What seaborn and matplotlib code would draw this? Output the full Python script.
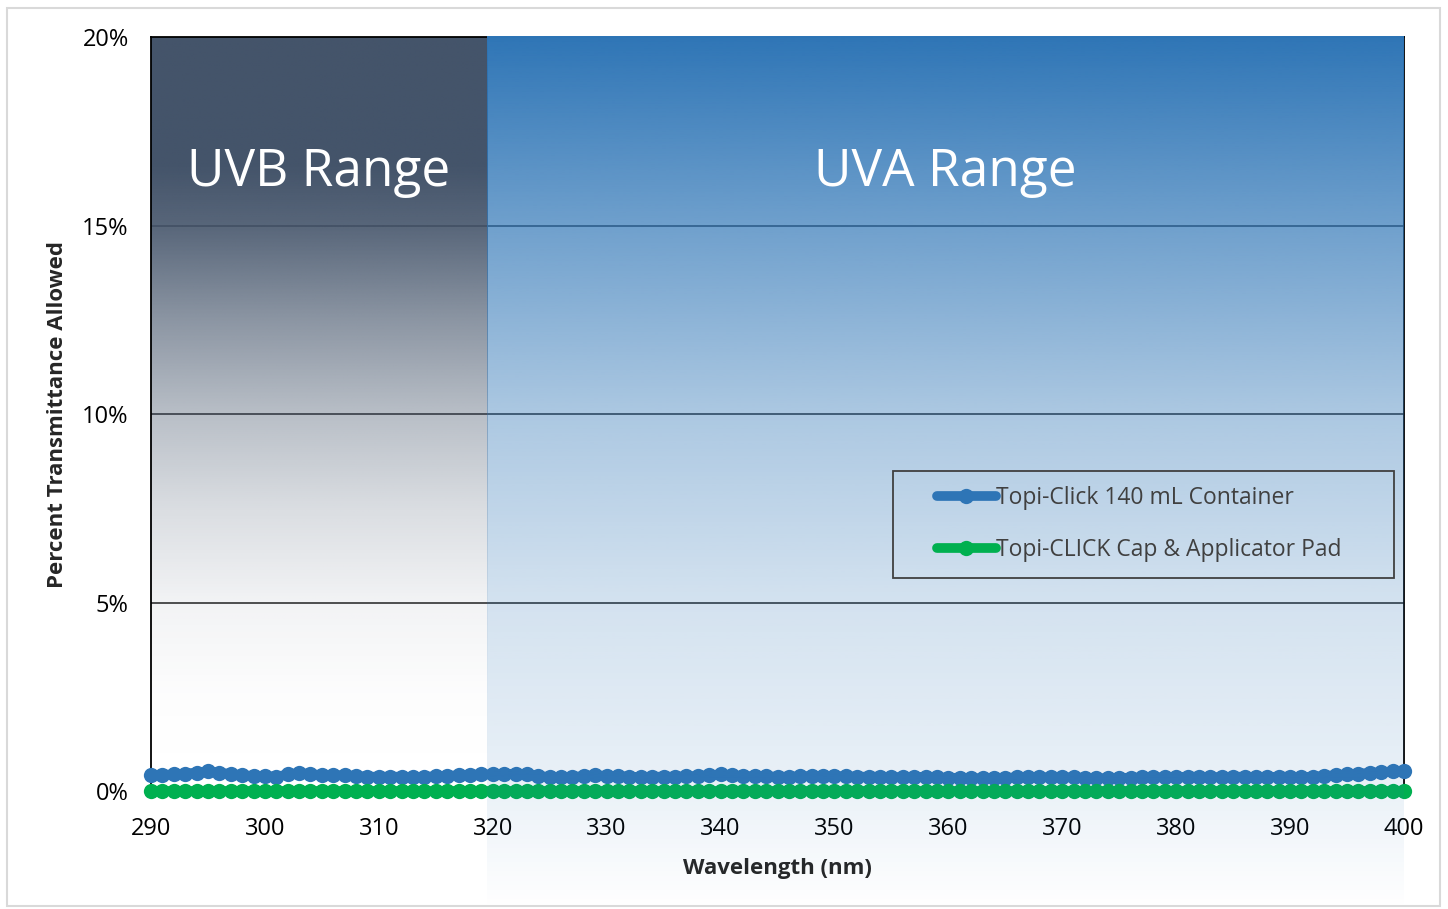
import numpy as np
import pandas as pd
import matplotlib
matplotlib.use("Agg")
import matplotlib.pyplot as plt
import seaborn as sns
from matplotlib.patches import Rectangle
from matplotlib.ticker import PercentFormatter

wavelength = list(range(290, 401))

container = [0.42, 0.43, 0.44, 0.46, 0.49, 0.52, 0.49, 0.45, 0.42, 0.40,
             0.40, 0.38, 0.44, 0.48, 0.45, 0.42, 0.42, 0.42, 0.40, 0.38,
             0.38, 0.38, 0.38, 0.37, 0.38, 0.39, 0.40, 0.42, 0.43, 0.44,
             0.44, 0.45, 0.46, 0.45, 0.40, 0.37, 0.36, 0.37, 0.40, 0.42,
             0.40, 0.40, 0.38, 0.37, 0.38, 0.38, 0.38, 0.39, 0.40, 0.42,
             0.44, 0.42, 0.40, 0.39, 0.39, 0.38, 0.38, 0.39, 0.40, 0.40,
             0.40, 0.39, 0.38, 0.38, 0.38, 0.37, 0.37, 0.38, 0.37, 0.36,
             0.35, 0.35, 0.34, 0.34, 0.35, 0.35, 0.36, 0.36, 0.36, 0.37,
             0.37, 0.36, 0.35, 0.34, 0.34, 0.35, 0.35, 0.36, 0.36, 0.37,
             0.37, 0.38, 0.38, 0.37, 0.37, 0.38, 0.38, 0.37, 0.37, 0.38,
             0.38, 0.37, 0.38, 0.40, 0.42, 0.44, 0.46, 0.48, 0.50, 0.52,
             0.54]

cap_pad = [0.01, 0.01, 0.01, 0.01, 0.01, 0.01, 0.01, 0.01, 0.01, 0.01,
           0.01, 0.01, 0.01, 0.01, 0.01, 0.01, 0.01, 0.01, 0.01, 0.01,
           0.01, 0.01, 0.01, 0.01, 0.01, 0.01, 0.01, 0.01, 0.01, 0.01,
           0.01, 0.01, 0.01, 0.01, 0.01, 0.01, 0.01, 0.01, 0.01, 0.01,
           0.01, 0.01, 0.01, 0.01, 0.01, 0.01, 0.01, 0.01, 0.01, 0.01,
           0.01, 0.01, 0.01, 0.01, 0.01, 0.01, 0.01, 0.01, 0.01, 0.01,
           0.01, 0.01, 0.01, 0.01, 0.01, 0.01, 0.01, 0.01, 0.01, 0.01,
           0.01, 0.01, 0.01, 0.01, 0.01, 0.01, 0.01, 0.01, 0.01, 0.01,
           0.01, 0.01, 0.01, 0.01, 0.01, 0.01, 0.01, 0.01, 0.01, 0.01,
           0.01, 0.01, 0.01, 0.01, 0.01, 0.01, 0.01, 0.01, 0.01, 0.01,
           0.01, 0.01, 0.01, 0.01, 0.01, 0.01, 0.01, 0.01, 0.01, 0.01,
           0.01]

series_names = ["Topi-Click 140 mL Container", "Topi-CLICK Cap & Applicator Pad"]
series_colors = ["#2E75B6", "#00B050"]
range_labels = ["UVB Range", "UVA Range"]
uvb_lim = (290, 319.5)
uva_lim = (319.5, 400)
y_ticks = [0, 5, 10, 15, 20]

df = pd.concat([
    pd.DataFrame({"wavelength": wavelength, "transmittance": container, "series": series_names[0]}),
    pd.DataFrame({"wavelength": wavelength, "transmittance": cap_pad, "series": series_names[1]}),
])

sns.set_style("white")
plt.rcParams["font.family"] = ["Open Sans", "DejaVu Sans"]

fig = plt.figure(figsize=(14.48, 9.09), dpi=100)
ax = fig.add_axes([0.1043, 0.1298, 0.8653, 0.8295])

# gradient overlays (alpha fades toward the bottom)
def gradient(color, ys, alphas, y_bottom, n=400):
    yy = np.linspace(20, y_bottom, n)
    a = np.interp(-yy, [-v for v in ys], alphas)
    rgba = np.zeros((n, 1, 4))
    rgba[:, 0, :3] = matplotlib.colors.to_rgb(color)
    rgba[:, 0, 3] = a
    return rgba

uvb = gradient("#44546A", [20, 16.5, 15, 12.5, 10, 7.5, 5, 2.5, 0],
               [1, 1, 0.9, 0.62, 0.38, 0.2, 0.07, 0.01, 0], 0)
ax.imshow(uvb, extent=[uvb_lim[0], uvb_lim[1], 0, 20], aspect="auto",
          interpolation="bilinear", zorder=1)

uva_bottom = -3.15
uva = gradient("#2E75B6", [20, 15, 10, 5, 0, uva_bottom],
               [1, 0.69, 0.40, 0.21, 0.10, 0.0], uva_bottom)
ax.imshow(uva, extent=[uva_lim[0], uva_lim[1], uva_bottom, 20], aspect="auto",
          interpolation="bilinear", zorder=2.6, clip_on=False)

sns.lineplot(data=df, x="wavelength", y="transmittance", hue="series",
             palette=dict(zip(series_names, series_colors)), marker="o",
             markersize=11, markeredgewidth=0, linewidth=7, ax=ax,
             zorder=2.55, clip_on=False)

ax.set_xlim(290, 400)
ax.set_ylim(0, 20)
ax.set_xticks(range(290, 401, 10))
ax.set_yticks(y_ticks)
ax.yaxis.set_major_formatter(PercentFormatter(decimals=0))
ax.tick_params(axis="both", length=0, labelsize=17, colors="black")
ax.tick_params(axis="y", pad=16)
ax.tick_params(axis="x", pad=19)
ax.grid(axis="y", color="#404040", linewidth=1.3)
ax.grid(axis="x", visible=False)
ax.set_axisbelow(True)

for side in ["left", "top", "right", "bottom"]:
    ax.spines[side].set_color("black")
    ax.spines[side].set_linewidth(1.3)

ax.set_xlabel("Wavelength (nm)", fontsize=16, fontweight="bold", labelpad=12)
ax.set_ylabel("Percent Transmittance Allowed", fontsize=16, fontweight="bold", labelpad=10)

ax.text(304.7, 16.4, range_labels[0], color="white", fontsize=37,
        ha="center", va="center", zorder=4)
ax.text(359.7, 16.4, range_labels[1], color="white", fontsize=37,
        ha="center", va="center", zorder=4)

handles, labels = ax.get_legend_handles_labels()
leg = ax.legend(handles, labels, loc="center left", bbox_to_anchor=(0.627, 0.354),
                borderaxespad=0, borderpad=0, fontsize=16.5, frameon=False,
                handlelength=2.6, handletextpad=0.0, labelspacing=1.2)
leg.set_zorder(5)
for t in leg.get_texts():
    t.set_color("#404040")
ax.add_patch(Rectangle((0.592, 0.2825), 0.4, 0.1415, transform=ax.transAxes,
                       fill=False, edgecolor="#404040", linewidth=1.3, zorder=5))

fig.patches.append(Rectangle((0.0048, 0.0033), 0.9896, 0.988, transform=fig.transFigure,
                             fill=False, edgecolor="#D9D9D9", linewidth=1.5))

fig.savefig("out.png", dpi=100)
